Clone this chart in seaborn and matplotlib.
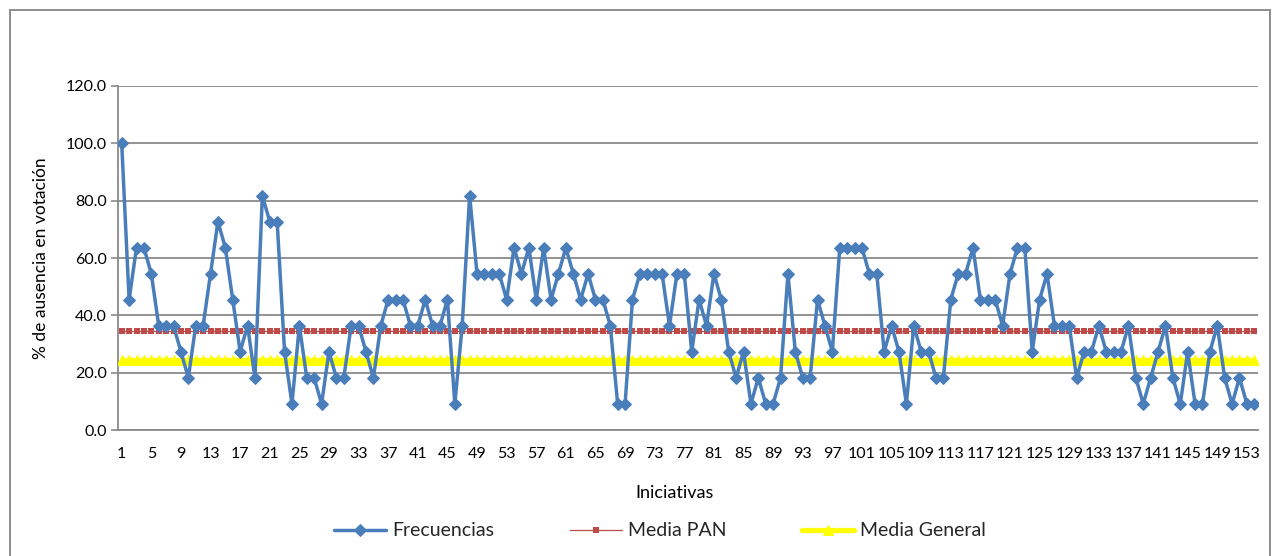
import numpy as np
import pandas as pd
import matplotlib
matplotlib.use("Agg")
import matplotlib.pyplot as plt
import seaborn as sns
from matplotlib.patches import Rectangle

# ---- data ----
frecuencias = [
    100.0, 45.5, 63.6, 63.6, 54.5, 36.4, 36.4, 36.4, 27.3, 18.2,
    36.4, 36.4, 54.5, 72.7, 63.6, 45.5, 27.3, 36.4, 18.2, 81.8,
    72.7, 72.7, 27.3, 9.1, 36.4, 18.2, 18.2, 9.1, 27.3, 18.2,
    18.2, 36.4, 36.4, 27.3, 18.2, 36.4, 45.5, 45.5, 45.5, 36.4,
    36.4, 45.5, 36.4, 36.4, 45.5, 9.1, 36.4, 81.8, 54.5, 54.5,
    54.5, 54.5, 45.5, 63.6, 54.5, 63.6, 45.5, 63.6, 45.5, 54.5,
    63.6, 54.5, 45.5, 54.5, 45.5, 45.5, 36.4, 9.1, 9.1, 45.5,
    54.5, 54.5, 54.5, 54.5, 36.4, 54.5, 54.5, 27.3, 45.5, 36.4,
    54.5, 45.5, 27.3, 18.2, 27.3, 9.1, 18.2, 9.1, 9.1, 18.2,
    54.5, 27.3, 18.2, 18.2, 45.5, 36.4, 27.3, 63.6, 63.6, 63.6,
    63.6, 54.5, 54.5, 27.3, 36.4, 27.3, 9.1, 36.4, 27.3, 27.3,
    18.2, 18.2, 45.5, 54.5, 54.5, 63.6, 45.5, 45.5, 45.5, 36.4,
    54.5, 63.6, 63.6, 27.3, 45.5, 54.5, 36.4, 36.4, 36.4, 18.2,
    27.3, 27.3, 36.4, 27.3, 27.3, 27.3, 36.4, 18.2, 9.1, 18.2,
    27.3, 36.4, 18.2, 9.1, 27.3, 9.1, 9.1, 27.3, 36.4, 18.2,
    9.1, 18.2, 9.1, 9.1,
]
media_pan_value = 34.7
media_general_value = 24.4
iniciativas = list(range(1, len(frecuencias) + 1))
media_pan = [media_pan_value] * len(iniciativas)
media_general = [media_general_value] * len(iniciativas)
y_ticks = [0, 20, 40, 60, 80, 100, 120]
x_tick_labels = list(range(1, len(frecuencias) + 1, 4))

df = pd.DataFrame({
    "Iniciativas": iniciativas,
    "Frecuencias": frecuencias,
    "Media PAN": media_pan,
    "Media General": media_general,
})

sns.set_theme(style="white")
plt.rcParams["font.family"] = ["Lato", "DejaVu Sans"]

W, H = 1276, 556
fig = plt.figure(figsize=(W / 100, H / 100), dpi=100)
ax = fig.add_axes([118 / W, (H - 430) / H, 1140 / W, 344 / H])

# outer chart frame
fig.patches.append(Rectangle((10 / W, -0.05), (1270 - 10) / W, (H - 10) / H + 0.05,
                             transform=fig.transFigure, fill=False,
                             edgecolor="#8c8c8c", linewidth=1.4))

blue = "#4A7EBB"
red = "#BE4B48"
yellow = "#FFFF00"

sns.lineplot(data=df, x="Iniciativas", y="Media General", ax=ax, color=yellow,
             linewidth=3.8, marker="^", markersize=6.5, markeredgecolor=yellow,
             label="Media General", zorder=3)
sns.lineplot(data=df, x="Iniciativas", y="Media PAN", ax=ax, color=red,
             linewidth=0.9, marker="s", markersize=4.2, markeredgewidth=0,
             markerfacecolor=red, label="Media PAN", zorder=4)
sns.lineplot(data=df, x="Iniciativas", y="Frecuencias", ax=ax, color=blue,
             linewidth=2.5, marker="D", markersize=6.2, markeredgecolor=blue,
             label="Frecuencias", zorder=5)

ax.set_xlim(0.5, len(frecuencias) + 0.5)
ax.set_ylim(0, 120)
ax.set_yticks(y_ticks)
ax.set_yticklabels([f"{v:.1f}" for v in y_ticks], fontsize=11.5)
ax.set_xticks(x_tick_labels)
ax.set_xticklabels([str(v) for v in x_tick_labels], fontsize=11.5)
ax.yaxis.grid(True, color="#8a8a8a", linewidth=1.3)
ax.xaxis.grid(False)
for s in ["top", "right"]:
    ax.spines[s].set_visible(False)
ax.spines["left"].set_color("#8a8a8a")
ax.spines["left"].set_linewidth(1.3)
ax.spines["bottom"].set_color("#8a8a8a")
ax.spines["bottom"].set_linewidth(1.3)
ax.tick_params(axis="y", which="major", length=5, width=1.2, color="#8a8a8a",
               left=True, pad=3, labelcolor="black")
ax.tick_params(axis="x", which="major", length=0, pad=12, labelcolor="black")

ax.set_ylabel("% de ausencia en votación", fontsize=12.5, labelpad=12, color="black")
ax.set_xlabel("Iniciativas", fontsize=13, color="black")
ax.xaxis.set_label_coords((675 - 118) / 1140, (430 - 493) / 344)
ax.xaxis.label.set_verticalalignment("center")

handles, labels = ax.get_legend_handles_labels()
order = [labels.index("Frecuencias"), labels.index("Media PAN"), labels.index("Media General")]
ax.legend([handles[i] for i in order], [labels[i] for i in order],
          loc="center", bbox_to_anchor=((660 - 118) / 1140, (430 - 531) / 344),
          ncol=3, frameon=False, fontsize=14, handlelength=2.67,
          columnspacing=3.9, handletextpad=0.3, borderpad=0)

fig.savefig("out.png", dpi=100)
